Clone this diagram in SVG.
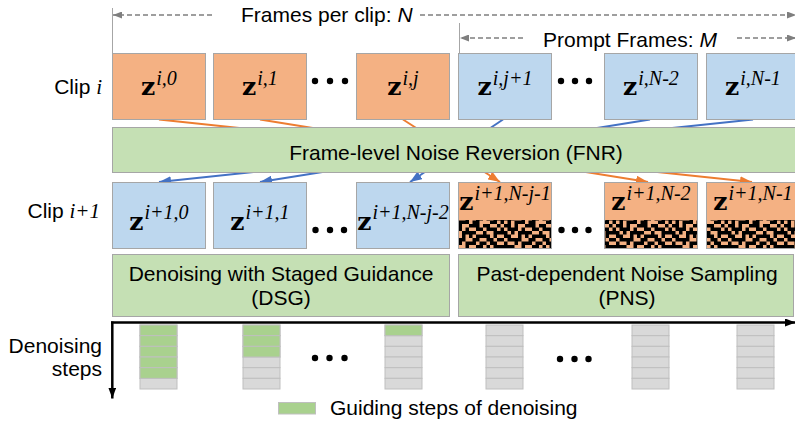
<svg xmlns="http://www.w3.org/2000/svg" width="795" height="421" viewBox="0 0 795 421">
<style>
.txt{font-family:"Liberation Sans",Arial,sans-serif;font-size:21px;fill:#000}
.it{font-family:"Liberation Serif","Times New Roman",serif;font-style:italic}
.ii{font-style:italic}
.z{font-family:"DejaVu Serif",serif;font-weight:bold;font-size:25px}
.sup{font-family:"Liberation Serif","Times New Roman",serif;font-style:italic;font-size:20px}
.org{fill:#F4B183;stroke:#A6A6A6;stroke-width:1}
.blu{fill:#BDD7EE;stroke:#A6A6A6;stroke-width:1}
.grn{fill:#C5E0B4;stroke:#A6A6A6;stroke-width:1}
.co{stroke:#ED7D31;stroke-width:2;fill:none;marker-end:url(#ao)}
.cb{stroke:#4472C4;stroke-width:2;fill:none;marker-end:url(#ab)}
.dash{stroke:#7F7F7F;stroke-width:1.5;stroke-dasharray:5 3;fill:none;marker-end:url(#ag)}
.vg{stroke:#A6A6A6;stroke-width:1;fill:none}
.ax{stroke:#000;stroke-width:2.5;fill:none;marker-end:url(#ak)}
.cg{fill:#D9D9D9;stroke:#BFBFBF;stroke-width:1}
.cgr{fill:#A9D18E;stroke:#BFBFBF;stroke-width:1}
.dot{fill:#000}
</style>
<defs>
<marker id="ao" markerUnits="userSpaceOnUse" markerWidth="12" markerHeight="9" refX="12" refY="4.5" orient="auto"><path d="M0,0L12,4.5L0,9z" fill="#ED7D31"/></marker>
<marker id="ab" markerUnits="userSpaceOnUse" markerWidth="12" markerHeight="9" refX="12" refY="4.5" orient="auto"><path d="M0,0L12,4.5L0,9z" fill="#4472C4"/></marker>
<marker id="ag" markerUnits="userSpaceOnUse" markerWidth="9" markerHeight="7" refX="9" refY="3.5" orient="auto"><path d="M0,0L9,3.5L0,7z" fill="#7F7F7F"/></marker>
<marker id="ak" markerUnits="userSpaceOnUse" markerWidth="11" markerHeight="8" refX="11" refY="4" orient="auto"><path d="M0,0L11,4L0,8z" fill="#000"/></marker>
<pattern id="noise" patternUnits="userSpaceOnUse" width="64" height="32" patternTransform="scale(0.875)">
<path fill="#000" d="M0 0h8v4h-8z M12 0h4v4h-4z M24 0h12v4h-12z M40 0h8v4h-8z M56 0h4v4h-4z M4 4h12v4h-12z M20 4h4v4h-4z M32 4h8v4h-8z M44 4h12v4h-12z M60 4h4v4h-4z M0 8h4v4h-4z M8 8h4v4h-4z M16 8h16v4h-16z M40 8h4v4h-4z M52 8h12v4h-12z M0 12h8v4h-8z M16 12h4v4h-4z M24 12h4v4h-4z M32 12h16v4h-16z M52 12h4v4h-4z M4 16h16v4h-16z M28 16h8v4h-8z M44 16h8v4h-8z M56 16h8v4h-8z M0 20h4v4h-4z M12 20h4v4h-4z M20 20h12v4h-12z M36 20h8v4h-8z M48 20h8v4h-8z M0 24h12v4h-12z M20 24h4v4h-4z M32 24h8v4h-8z M44 24h4v4h-4z M52 24h12v4h-12z M4 28h4v4h-4z M12 28h12v4h-12z M28 28h8v4h-8z M48 28h8v4h-8z M60 28h4v4h-4z"/>
</pattern>
<g id="col">
<rect class="cg" x="0" y="0" width="37" height="10.67"/>
<rect class="cg" x="0" y="10.67" width="37" height="10.67"/>
<rect class="cg" x="0" y="21.33" width="37" height="10.67"/>
<rect class="cg" x="0" y="32" width="37" height="10.67"/>
<rect class="cg" x="0" y="42.67" width="37" height="10.67"/>
<rect class="cg" x="0" y="53.33" width="37" height="10.67"/>
</g>
</defs>
<rect width="795" height="421" fill="#fff"/>

<g id="dimensions">
<line class="vg" x1="112.5" y1="8" x2="112.5" y2="53"/>
<line class="vg" x1="459.5" y1="23" x2="459.5" y2="53"/>
<path class="dash" d="M212,15 L113,15"/>
<path class="dash" d="M420,15 L796,15"/>
<path class="dash" d="M523,38 L460,38"/>
<path class="dash" d="M737,38 L796,38"/>
<text class="txt" x="241" y="22">Frames per clip: <tspan class="ii">N</tspan></text>
<text class="txt" x="543" y="47">Prompt Frames: <tspan class="ii">M</tspan></text>
</g>

<g id="connectors">
<path class="co" d="M159,119.5 L752,182"/>
<path class="co" d="M260,119.5 L648,182"/>
<path class="co" d="M403,119.5 L500,182"/>
<path class="cb" d="M503,119.5 L410,182"/>
<path class="cb" d="M650,119.5 L260,182"/>
<path class="cb" d="M753,119.5 L159,182"/>
</g>

<g id="labels">
<text class="txt" x="102" y="94" text-anchor="end">Clip <tspan class="it">i</tspan></text>
<text class="txt" x="100" y="218" text-anchor="end">Clip <tspan class="it">i+1</tspan></text>
<text class="txt" x="102" y="353" text-anchor="end">Denoising</text>
<text class="txt" x="102" y="376" text-anchor="end">steps</text>
</g>

<g id="z-i-0"><rect class="org" x="112.5" y="53.5" width="93" height="66"/>
<text x="159" y="95" text-anchor="middle"><tspan class="z">z</tspan><tspan class="sup" dx="1" dy="-10">i,0</tspan></text></g>
<g id="z-i-1"><rect class="org" x="213.5" y="53.5" width="93" height="66"/>
<text x="260" y="95" text-anchor="middle"><tspan class="z">z</tspan><tspan class="sup" dx="1" dy="-10">i,1</tspan></text></g>
<g id="z-i-j"><rect class="org" x="356.5" y="53.5" width="93" height="66"/>
<text x="403" y="95" text-anchor="middle"><tspan class="z">z</tspan><tspan class="sup" dx="1" dy="-10">i,j</tspan></text></g>
<g id="z-i-j1"><rect class="blu" x="458.5" y="53.5" width="93" height="66"/>
<text x="505" y="95" text-anchor="middle"><tspan class="z">z</tspan><tspan class="sup" dx="1" dy="-10">i,j+1</tspan></text></g>
<g id="z-i-N2"><rect class="blu" x="604.5" y="53.5" width="93" height="66"/>
<text x="651" y="95" text-anchor="middle"><tspan class="z">z</tspan><tspan class="sup" dx="1" dy="-10">i,N-2</tspan></text></g>
<g id="z-i-N1"><rect class="blu" x="706.5" y="53.5" width="93" height="66"/>
<text x="753" y="95" text-anchor="middle"><tspan class="z">z</tspan><tspan class="sup" dx="1" dy="-10">i,N-1</tspan></text></g>

<g id="dots">
<circle class="dot" cx="315" cy="81" r="3.2"/><circle class="dot" cx="330" cy="81" r="3.2"/><circle class="dot" cx="345" cy="81" r="3.2"/>
<circle class="dot" cx="561" cy="81" r="3.2"/><circle class="dot" cx="575" cy="81" r="3.2"/><circle class="dot" cx="589" cy="81" r="3.2"/>
<circle class="dot" cx="315.5" cy="230" r="3.2"/><circle class="dot" cx="330" cy="230" r="3.2"/><circle class="dot" cx="344" cy="230" r="3.2"/>
<circle class="dot" cx="561.5" cy="230" r="3.2"/><circle class="dot" cx="575" cy="230" r="3.2"/><circle class="dot" cx="588.5" cy="230" r="3.2"/>
<circle class="dot" cx="315" cy="358" r="3.2"/><circle class="dot" cx="329.5" cy="358" r="3.2"/><circle class="dot" cx="344.5" cy="358" r="3.2"/>
<circle class="dot" cx="560" cy="359" r="3.2"/><circle class="dot" cx="574.5" cy="359" r="3.2"/><circle class="dot" cx="588.5" cy="359" r="3.2"/>
</g>

<g id="fnr"><rect class="grn" x="112.5" y="127.5" width="688" height="45"/>
<text class="txt" x="456" y="159.5" text-anchor="middle">Frame-level Noise Reversion (FNR)</text></g>

<g id="z-i1-0"><rect class="blu" x="112.5" y="182.5" width="93" height="66"/>
<text x="159" y="230" text-anchor="middle"><tspan class="z">z</tspan><tspan class="sup" dx="1" dy="-11">i+1,0</tspan></text></g>
<g id="z-i1-1"><rect class="blu" x="213.5" y="182.5" width="93" height="66"/>
<text x="260" y="230" text-anchor="middle"><tspan class="z">z</tspan><tspan class="sup" dx="1" dy="-11">i+1,1</tspan></text></g>
<g id="z-i1-Nj2"><rect class="blu" x="356.5" y="182.5" width="93" height="66"/>
<text x="403" y="230" text-anchor="middle"><tspan class="z">z</tspan><tspan class="sup" dx="1" dy="-11">i+1,N-j-2</tspan></text></g>
<g id="z-i1-Nj1"><rect class="org" x="458.5" y="182.5" width="93" height="66"/>
<rect x="459" y="220" width="92" height="28" fill="url(#noise)"/>
<text x="505" y="210" text-anchor="middle"><tspan class="z">z</tspan><tspan class="sup" dx="1" dy="-10">i+1,N-j-1</tspan></text></g>
<g id="z-i1-N2"><rect class="org" x="604.5" y="182.5" width="93" height="66"/>
<rect x="605" y="220" width="92" height="28" fill="url(#noise)"/>
<text x="651" y="210" text-anchor="middle"><tspan class="z">z</tspan><tspan class="sup" dx="1" dy="-10">i+1,N-2</tspan></text></g>
<g id="z-i1-N1"><rect class="org" x="706.5" y="182.5" width="93" height="66"/>
<rect x="707" y="220" width="92" height="28" fill="url(#noise)"/>
<text x="753" y="210" text-anchor="middle"><tspan class="z">z</tspan><tspan class="sup" dx="1" dy="-10">i+1,N-1</tspan></text></g>

<g id="dsg"><rect class="grn" x="112.5" y="254.5" width="337" height="62"/>
<text class="txt" x="281" y="281" text-anchor="middle">Denoising with Staged Guidance</text>
<text class="txt" x="281" y="305" text-anchor="middle">(DSG)</text></g>
<g id="pns"><rect class="grn" x="458.5" y="254.5" width="335" height="62"/>
<text class="txt" x="627" y="281" text-anchor="middle">Past-dependent Noise Sampling</text>
<text class="txt" x="627" y="305" text-anchor="middle">(PNS)</text></g>

<g id="axes">
<path class="ax" d="M111,322.5 L796,322.5"/>
<path class="ax" d="M112.3,321.5 L112.3,398.5"/>
</g>

<g id="steps">
<use href="#col" x="140" y="325"/>
<use href="#col" x="243" y="325"/>
<use href="#col" x="385" y="325"/>
<use href="#col" x="486" y="325"/>
<use href="#col" x="632" y="325"/>
<use href="#col" x="737" y="325"/>
<rect class="cgr" x="140" y="325" width="37" height="10.67"/>
<rect class="cgr" x="140" y="335.67" width="37" height="10.67"/>
<rect class="cgr" x="140" y="346.33" width="37" height="10.67"/>
<rect class="cgr" x="140" y="357" width="37" height="10.67"/>
<rect class="cgr" x="140" y="367.67" width="37" height="10.67"/>
<rect class="cgr" x="243" y="325" width="37" height="10.67"/>
<rect class="cgr" x="243" y="335.67" width="37" height="10.67"/>
<rect class="cgr" x="243" y="346.33" width="37" height="10.67"/>
<rect class="cgr" x="385" y="325" width="37" height="10.67"/>
</g>

<g id="legend">
<rect class="cgr" x="278.5" y="402.5" width="37" height="11.5"/>
<text class="txt" x="330" y="415">Guiding steps of denoising</text>
</g>
</svg>
